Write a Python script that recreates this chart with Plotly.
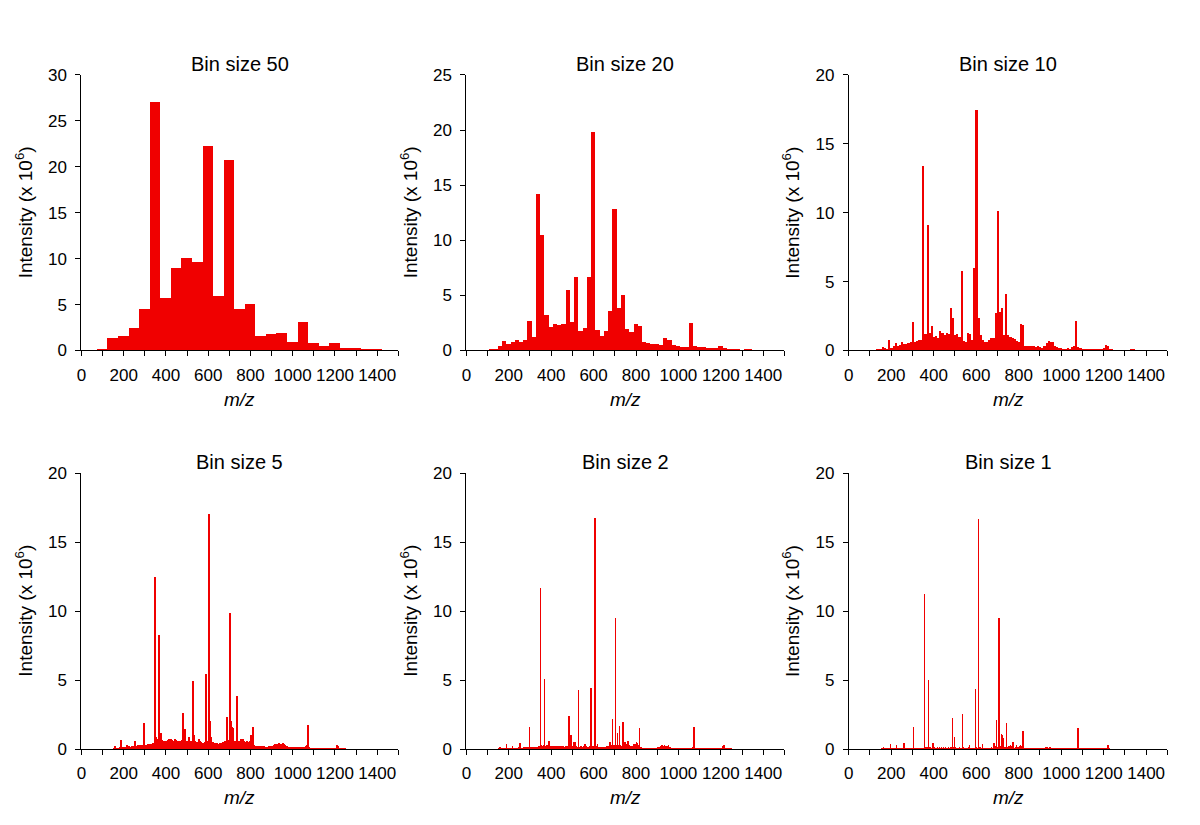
import plotly.graph_objects as go

# The page body keeps its default 8px margin, so the figure is drawn 8px in
# from the window edge; all pixel targets below are window positions.
OFF = 8
W, H = 1200 - 2 * OFF, 825 - 2 * OFF
RED = "rgb(240,0,0)"
FONT = "Liberation Sans, Arial, sans-serif"

# ---------------- data ----------------
# Bin size 50 (bin centres, m/z)
mz50 = list(range(100, 1401, 50))
int50 = [0.18, 1.35, 1.56, 2.41, 4.57, 27.1, 5.7, 8.94, 10.1, 9.6, 22.3, 5.96, 20.7,
         4.5, 5.07, 1.56, 1.84, 1.88, 0.92, 3.12, 0.78, 0.46, 0.78, 0.25, 0.25, 0.14, 0.07]

# Bin size 20
mz20 = list(range(100, 1381, 20))
int20 = [0.02, 0.1, 0.15, 0.4, 0.9, 0.6, 0.8, 1.0, 0.75, 1.0,
         2.65, 1.25, 14.2, 10.5, 3.2, 2.1, 2.45, 2.35, 2.45, 5.5,
         2.6, 6.65, 1.8, 2.05, 6.7, 19.85, 1.9, 1.3, 1.75, 3.6,
         12.85, 3.9, 5.0, 2.0, 1.7, 2.45, 2.25, 0.8, 0.7, 0.6,
         0.6, 0.55, 1.1, 1.0, 0.5, 0.4, 0.35, 0.35, 2.5, 0.4,
         0.35, 0.3, 0.25, 0.2, 0.2, 0.4, 0.2, 0.1, 0.08, 0.08,
         0.05, 0.1, 0.15, 0.05, 0.03]

# Bin size 10
mz10 = list(range(120, 1351, 10))
int10 = [0.03, 0.05, 0.05, 0.1, 0.25, 0.2, 0.15, 0.75,            # 120-190
         0.2, 0.3, 0.55, 0.35, 0.4, 0.65, 0.45, 0.5, 0.55, 0.6,   # 200-290
         2.1, 0.65, 0.7, 0.75, 0.8, 13.4, 1.2, 9.15, 1.3, 1.75,   # 300-390
         1.0, 1.05, 0.9, 1.4, 1.25, 1.15, 1.3, 1.2, 3.1, 2.4,     # 400-490
         1.1, 1.2, 1.0, 5.75, 0.7, 0.65, 1.25, 1.2, 0.75, 6.0,    # 500-590
         17.45, 2.4, 1.1, 0.8, 0.6, 0.65, 0.8, 0.9, 0.9, 2.7,     # 600-690
         10.1, 2.8, 3.1, 1.1, 4.1, 1.1, 1.0, 0.9, 0.85, 0.7,      # 700-790
         0.6, 1.9, 1.85, 0.35, 0.35, 0.3, 0.3, 0.3, 0.25, 0.3,    # 800-890
         0.25, 0.2, 0.3, 0.55, 0.7, 0.6, 0.65, 0.3, 0.25, 0.2,    # 900-990
         0.2, 0.15, 0.15, 0.2, 0.15, 0.25, 0.3, 2.15, 0.25, 0.2,  # 1000-1090
         0.15, 0.15, 0.1, 0.1, 0.1, 0.1, 0.08, 0.1, 0.08, 0.1,    # 1100-1190
         0.2, 0.4, 0.3, 0.1, 0.05, 0.03, 0.03, 0.02, 0.02, 0.02,  # 1200-1290
         0.02, 0.02, 0.02, 0.05, 0.12, 0.02]                      # 1300-1350

# Bin size 5: background bins (150-1250) and peak bins
mz5_base = list(range(150, 1251, 5))
int5_base = [0.0, 0.03, 0.2, 0.05, 0.08, 0.1, 0.05, 0.12, 0.15, 0.1,
             0.12, 0.1, 0.15, 0.18, 0.33, 0.2, 0.15, 0.18, 0.2, 0.22,
             0.25, 0.6, 0.22, 0.25, 0.28, 0.3, 0.27, 0.3, 0.32, 0.3,
             0.35, 0.3, 0.32, 0.35, 0.33, 0.35, 0.38, 0.4, 0.42, 0.45,
             0.5, 0.75, 0.7, 0.65, 0.75, 0.7, 1.15, 0.65, 0.6, 0.62,
             0.6, 0.55, 0.65, 0.7, 0.6, 0.72, 0.65, 0.6, 0.55, 0.7,
             0.68, 0.6, 0.62, 0.55, 0.6, 0.58, 0.65, 0.62, 0.7, 0.6,
             0.55, 0.5, 0.85, 0.5, 0.55, 0.6, 0.48, 0.5, 0.62, 0.5,
             0.45, 0.5, 0.7, 0.55, 0.48, 0.42, 0.45, 0.5, 0.55, 0.5,
             0.6, 0.55, 0.65, 0.5, 0.45, 0.48, 0.42, 0.4, 0.45, 0.42,
             0.4, 0.38, 0.42, 0.45, 0.48, 0.5, 0.6, 0.55, 0.6, 0.58,
             0.65, 0.7, 0.6, 0.75, 0.65, 0.6, 0.55, 0.5, 0.6, 0.5,
             0.55, 0.7, 0.75, 0.72, 0.6, 0.5, 0.5, 0.55, 0.5, 0.45,
             0.6, 1.0, 0.9, 0.5, 0.3, 0.25, 0.22, 0.2, 0.22, 0.2,
             0.18, 0.2, 0.18, 0.2, 0.17, 0.18, 0.16, 0.18, 0.2, 0.18,
             0.2, 0.22, 0.25, 0.3, 0.35, 0.4, 0.38, 0.42, 0.35, 0.4,
             0.38, 0.42, 0.36, 0.3, 0.25, 0.2, 0.18, 0.15, 0.16, 0.14,
             0.15, 0.13, 0.12, 0.14, 0.12, 0.1, 0.12, 0.1, 0.12, 0.1,
             0.12, 0.15, 0.18, 0.25, 0.3, 0.2, 0.12, 0.1, 0.1, 0.08,
             0.1, 0.08, 0.07, 0.08, 0.06, 0.07, 0.05, 0.06, 0.08, 0.05,
             0.06, 0.05, 0.07, 0.05, 0.04, 0.05, 0.06, 0.05, 0.04, 0.05,
             0.06, 0.1, 0.28, 0.2, 0.08, 0.04, 0.03, 0.02, 0.02, 0.02,
             0.02]
mz5_pk = [190, 220, 300, 350, 355, 370, 375, 485, 490, 530, 535, 590, 605, 610, 615,
          690, 705, 710, 715, 720, 740, 810, 815, 1075]
int5_pk = [0.64, 0.33, 1.86, 12.5, 0.9, 8.3, 1.0, 2.6, 1.45, 4.95, 1.0, 5.45, 17.0, 2.0, 0.9,
           2.35, 9.85, 2.05, 1.6, 1.55, 3.85, 1.0, 1.6, 1.76]

# Bin size 2: background bins and peak bins
mz2_base = list(range(150, 1251, 5))
int2_base = [0, 0.02, 0.17, 0.03, 0.05, 0.04, 0.06, 0.05, 0.35, 0.06,
             0.05, 0.08, 0.06, 0.1, 0.24, 0.07, 0.08, 0.1, 0.09, 0.1,
             0.12, 0.47, 0.1, 0.11, 0.12, 0.13, 0.12, 0.14, 0.13, 0.14,
             0.15, 0.14, 0.15, 0.16, 0.15, 0.17, 0.16, 0.18, 0.17, 0.2,
             0.22, 0.3, 0.25, 0.28, 0.3, 0.25, 0.3, 0.26, 0.57, 0.3,
             0.24, 0.2, 0.22, 0.25, 0.2, 0.24, 0.22, 0.21, 0.2, 0.25,
             0.24, 0.2, 0.22, 0.18, 0.2, 0.22, 0.2, 0.25, 0.3, 0.22,
             0.2, 0.18, 0.52, 0.2, 0.22, 0.18, 0.2, 0.18, 0.22, 0.2,
             0.18, 0.2, 0.4, 0.2, 0.18, 0.16, 0.18, 0.2, 0.22, 0.2,
             0.25, 0.22, 0.3, 0.2, 0.4, 0.18, 0.16, 0.15, 0.18, 0.16,
             0.15, 0.16, 0.18, 0.2, 0.22, 0.25, 0.52, 0.3, 0.35, 0.3,
             0.3, 0.35, 0.3, 0.4, 0.32, 0.3, 0.28, 0.25, 0.3, 0.28,
             0.5, 0.4, 0.35, 0.55, 0.3, 0.25, 0.22, 0.2, 0.4, 0.3,
             0.35, 0.52, 0.45, 0.3, 0.15, 0.12, 0.1, 0.1, 0.09, 0.1,
             0.08, 0.09, 0.08, 0.1, 0.08, 0.07, 0.08, 0.09, 0.08, 0.1,
             0.1, 0.12, 0.1, 0.15, 0.2, 0.28, 0.25, 0.28, 0.22, 0.25,
             0.2, 0.28, 0.15, 0.12, 0.1, 0.08, 0.07, 0.06, 0.07, 0.05,
             0.06, 0.05, 0.04, 0.05, 0.04, 0.05, 0.04, 0.05, 0.04, 0.03,
             0.04, 0.05, 0.06, 0.1, 0.15, 0.12, 0.06, 0.05, 0.04, 0.03,
             0.04, 0.03, 0.02, 0.03, 0.02, 0.03, 0.02, 0.02, 0.03, 0.02,
             0.02, 0.03, 0.02, 0.02, 0.03, 0.02, 0.02, 0.03, 0.02, 0.02,
             0.03, 0.05, 0.2, 0.1, 0.03, 0.02, 0.01, 0.01, 0.01, 0.01,
             0.01]
mz2_pk = [300, 352, 370, 392, 486, 496, 514, 530, 562, 590, 608, 612, 680, 690, 706,
          714, 724, 740, 792, 818, 1076, 1216]
int2_pk = [1.6, 11.65, 5.1, 0.57, 2.38, 1.05, 0.52, 4.3, 0.4, 4.43, 16.75, 1.7, 0.52, 2.15, 9.53,
           1.2, 1.67, 1.96, 0.4, 1.49, 1.58, 0.26]

# Bin size 1: background bins and peak bins
mz1_base = list(range(150, 1251, 5))
int1_base = [0, 0.01, 0.02, 0.01, 0.02, 0.03, 0.02, 0.08, 0.03, 0.02,
             0.03, 0.02, 0.04, 0.03, 0.05, 0.04, 0.03, 0.05, 0.04, 0.05,
             0.05, 0.06, 0.05, 0.07, 0.06, 0.05, 0.07, 0.06, 0.08, 0.07,
             0.08, 0.07, 0.08, 0.09, 0.08, 0.1, 0.08, 0.09, 0.1, 0.09,
             0.1, 0.2, 0.12, 0.15, 0.12, 0.1, 0.18, 0.12, 0.1, 0.12,
             0.12, 0.1, 0.11, 0.12, 0.1, 0.13, 0.11, 0.12, 0.1, 0.12,
             0.11, 0.12, 0.1, 0.11, 0.12, 0.1, 0.12, 0.11, 0.15, 0.1,
             0.12, 0.1, 0.11, 0.1, 0.12, 0.1, 0.11, 0.1, 0.12, 0.1,
             0.1, 0.11, 0.1, 0.12, 0.1, 0.09, 0.1, 0.11, 0.1, 0.12,
             0.12, 0.1, 0.2, 0.15, 0.12, 0.1, 0.09, 0.08, 0.1, 0.09,
             0.08, 0.1, 0.09, 0.1, 0.12, 0.11, 0.15, 0.13, 0.2, 0.15,
             0.15, 0.18, 0.15, 0.2, 0.16, 0.15, 0.14, 0.12, 0.15, 0.13,
             0.25, 0.2, 0.3, 0.2, 0.15, 0.12, 0.1, 0.12, 0.2, 0.15,
             0.18, 0.25, 0.2, 0.12, 0.06, 0.05, 0.04, 0.05, 0.04, 0.05,
             0.04, 0.05, 0.04, 0.05, 0.04, 0.03, 0.04, 0.05, 0.04, 0.05,
             0.05, 0.06, 0.05, 0.08, 0.1, 0.12, 0.14, 0.12, 0.1, 0.12,
             0.14, 0.1, 0.08, 0.06, 0.05, 0.04, 0.03, 0.03, 0.04, 0.02,
             0.03, 0.02, 0.02, 0.03, 0.02, 0.02, 0.02, 0.03, 0.02, 0.02,
             0.02, 0.03, 0.04, 0.06, 0.08, 0.05, 0.03, 0.02, 0.02, 0.02,
             0.02, 0.01, 0.01, 0.02, 0.01, 0.01, 0.01, 0.01, 0.02, 0.01,
             0.01, 0.01, 0.01, 0.01, 0.01, 0.01, 0.01, 0.01, 0.01, 0.01,
             0.01, 0.02, 0.1, 0.05, 0.01, 0.01, 0, 0, 0, 0,
             0]
mz1_pk = [162, 195, 223, 259, 303, 355, 373, 395, 489, 498, 533, 567, 594, 611, 627,
          683, 694, 706, 717, 722, 727, 742, 772, 789, 809, 819, 1078, 1219]
int1_pk = [0.12, 0.35, 0.26, 0.47, 1.58, 11.25, 5.0, 0.47, 2.26, 0.9, 2.52, 0.33, 4.32, 16.67, 0.35,
           0.47, 2.12, 9.53, 1.06, 1.0, 0.78, 1.89, 0.54, 0.28, 0.26, 1.32, 1.53, 0.26]

titles = ["Bin size 50", "Bin size 20", "Bin size 10", "Bin size 5", "Bin size 2", "Bin size 1"]
y_max = [30, 25, 20, 20, 20, 20]
x_ticks = [0, 200, 400, 600, 800, 1000, 1200, 1400]

series = [
    [(mz50, int50, 50)],
    [(mz20, int20, 20)],
    [(mz10, int10, 10)],
    [(mz5_base, int5_base, 5), (mz5_pk, int5_pk, 5)],
    [(mz2_base, int2_base, 2), (mz2_pk, int2_pk, 2)],
    [(mz1_base, int1_base, 1), (mz1_pk, int1_pk, 1)],
]

# ---------------- layout geometry (window pixels) ----------------
col_x = [(76.7, 395.0), (463.3, 782.7), (847.3, 1167.3)]
row_y = [(67.3, 349.5), (475.0, 757.7)]


def px(v):
    return (v - OFF) / W


def py(v):
    return 1 - (v - OFF) / H


fig = go.Figure()
annotations = []
layout = dict(
    width=W, height=H,
    margin=dict(l=0, r=0, t=0, b=0),
    paper_bgcolor="white", plot_bgcolor="white",
    showlegend=False, barmode="overlay", bargap=0,
    font=dict(family=FONT, color="black"),
)

for i in range(6):
    r, c = divmod(i, 3)
    n = i + 1
    xs = "x" if n == 1 else f"x{n}"
    ys = "y" if n == 1 else f"y{n}"
    x0, x1 = col_x[c]
    yt, yb = row_y[r]
    for (mz, val, w) in series[i]:
        fig.add_trace(go.Bar(
            x=mz, y=val, width=w, xaxis=xs, yaxis=ys,
            marker=dict(color=RED, line=dict(width=0)),
            hoverinfo="x+y",
        ))
    layout["xaxis" if n == 1 else f"xaxis{n}"] = dict(
        domain=[px(x0), px(x1)], anchor=ys, range=[0, 1500],
        tickmode="array", tickvals=x_ticks, ticktext=[str(t) for t in x_ticks],
        showline=True, linecolor="black", linewidth=1,
        ticks="outside", ticklen=5, tickwidth=1, tickcolor="black",
        ticklabelstandoff=4,
        showgrid=False, zeroline=False,
        tickfont=dict(size=17, color="black", family=FONT),
        minor=dict(dtick=100, tick0=0, ticks="outside", ticklen=5, tickwidth=1,
                   tickcolor="black", showgrid=False),
        fixedrange=True,
    )
    layout["yaxis" if n == 1 else f"yaxis{n}"] = dict(
        domain=[py(yb), py(yt)], anchor=xs, range=[0, y_max[i]],
        dtick=5, tick0=0,
        showline=True, linecolor="black", linewidth=1,
        ticks="outside", ticklen=5, tickwidth=1, tickcolor="black",
        ticklabelstandoff=5,
        showgrid=False, zeroline=False,
        tickfont=dict(size=17, color="black", family=FONT),
        fixedrange=True,
    )
    # subplot title
    annotations.append(dict(
        text=titles[i], xref="paper", yref="paper",
        x=px((x0 + x1) / 2), y=py(yt - 11),
        xanchor="center", yanchor="middle", showarrow=False,
        font=dict(size=20, color="black", family=FONT),
    ))
    # y axis title
    annotations.append(dict(
        text="Intensity (x 10<sup>6</sup>)", xref="paper", yref="paper",
        x=px(x0 - 58), y=py((yt + yb) / 2),
        xanchor="center", yanchor="middle", textangle=-90, showarrow=False,
        font=dict(size=19, color="black", family=FONT),
    ))
    # x axis title
    annotations.append(dict(
        text="m/z", xref="paper", yref="paper",
        x=px((x0 + x1) / 2), y=py(yb + 50),
        xanchor="center", yanchor="middle", showarrow=False,
        font=dict(size=19, color="black", family=FONT, style="italic"),
    ))

layout["annotations"] = annotations
fig.update_layout(**layout)
fig.write_html("out.html")
